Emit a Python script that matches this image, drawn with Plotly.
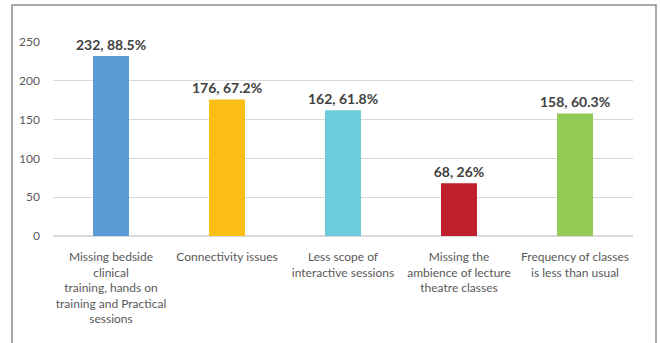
import plotly.graph_objects as go

categories = [
    "Missing bedside<br>clinical<br>training, hands on<br>training and Practical<br>sessions",
    "Connectivity issues",
    "Less scope of<br>interactive sessions",
    "Missing the<br>ambience of lecture<br>theatre classes",
    "Frequency of classes<br>is less than usual",
]
counts = [232, 176, 162, 68, 158]
percents = ["88.5%", "67.2%", "61.8%", "26%", "60.3%"]
colors = ["#5B9BD5", "#FBBE14", "#6DCCDC", "#BF1E2D", "#93C955"]

labels = [f"{c}, {p}" for c, p in zip(counts, percents)]

fig = go.Figure(go.Bar(
    x=categories, y=counts, marker=dict(color=colors, line=dict(width=0)),
    text=labels, textposition="outside", cliponaxis=False, constraintext="none",
    textfont=dict(family="Lato", size=14, color="#404040", weight="bold"),
))

L, R, T, B = 53, 27, 42, 107
W, H = 660, 343
pw, ph = W - L - R, H - T - B

fig.update_layout(
    width=W, height=H, margin=dict(l=L, r=R, t=T, b=B),
    paper_bgcolor="white", plot_bgcolor="white",
    bargap=0.69, showlegend=False,
    font=dict(family="Lato", size=12, color="#595959"),
    xaxis=dict(showgrid=False, showline=False, ticks="", tickangle=0,
               ticklabelstandoff=12,
               tickfont=dict(size=12, color="#595959")),
    yaxis=dict(range=[0, 250], dtick=50, showgrid=True, gridcolor="#D9D9D9",
               gridwidth=1, zeroline=True, zerolinecolor="#D9D9D9",
               showline=False, ticks="", ticklabelstandoff=12,
               tickfont=dict(size=12, color="#595959")),
    shapes=[dict(type="rect", xref="paper", yref="paper",
                 x0=(12 - L) / pw, x1=(656 - L) / pw,
                 y0=(T + ph - 360) / ph, y1=(T + ph - 5) / ph,
                 line=dict(color="#8C8C8C", width=1.5), layer="below")],
)

fig.write_html("out.html")
